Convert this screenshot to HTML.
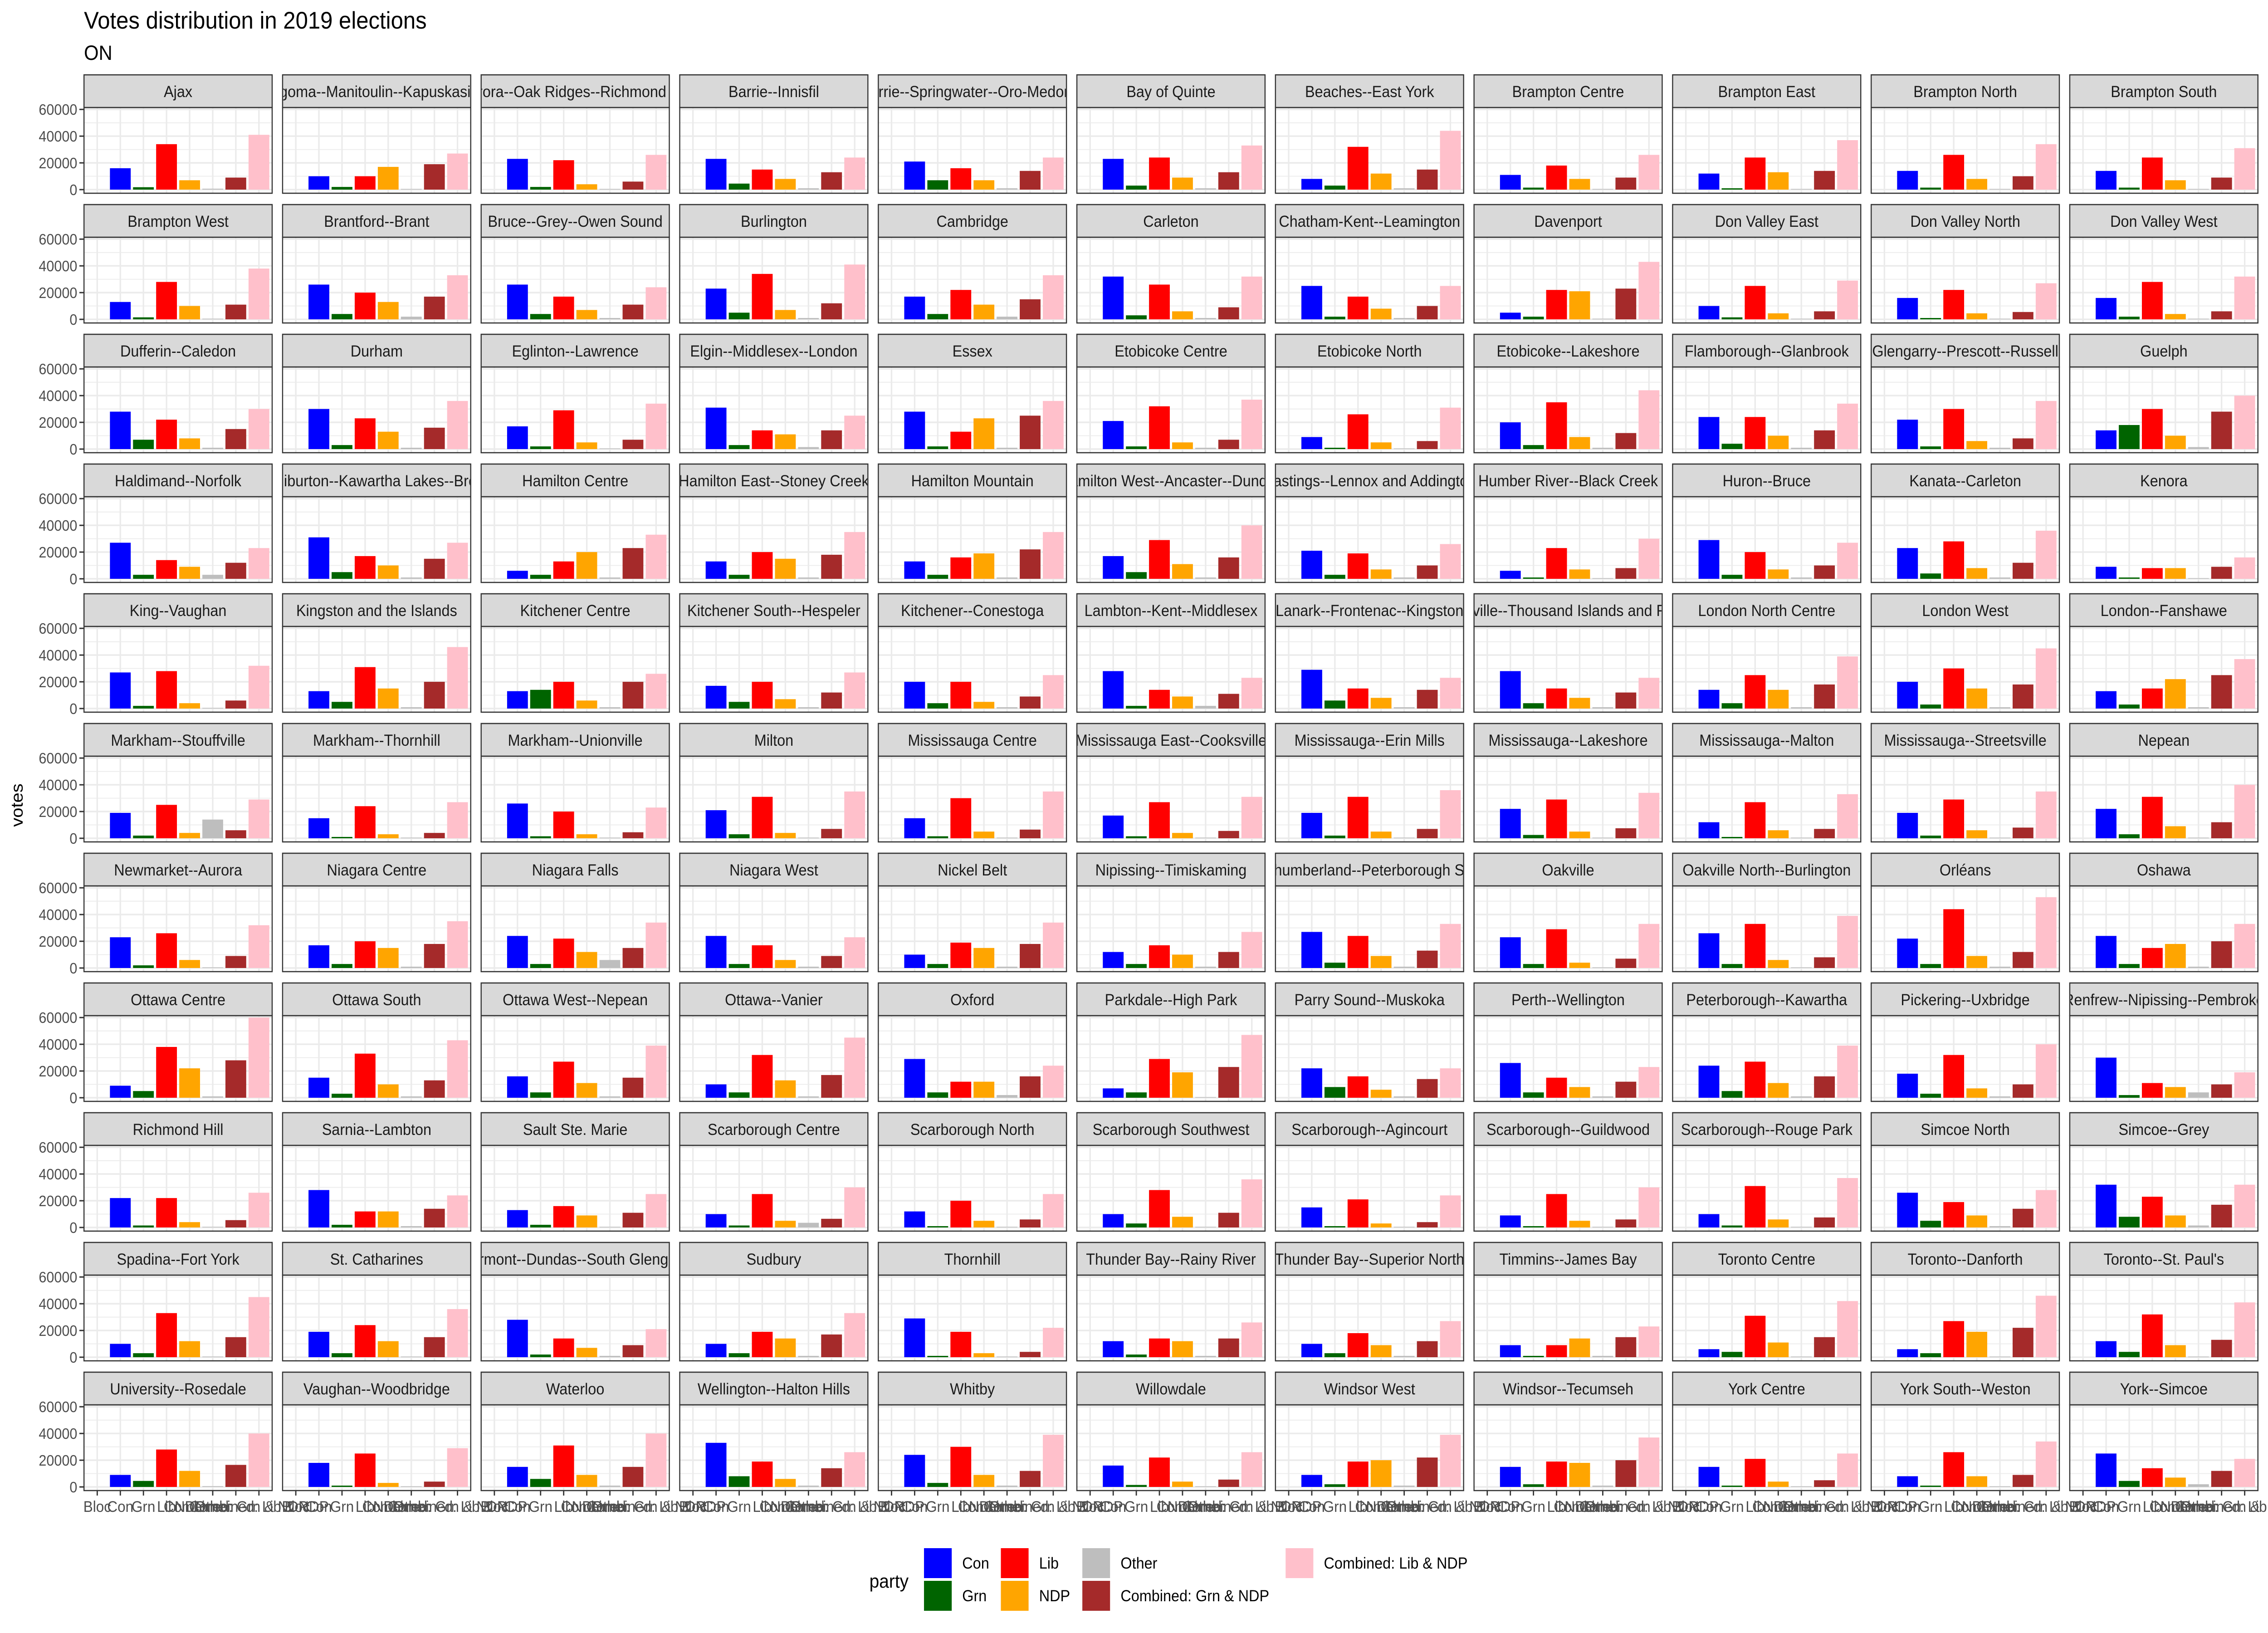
<!DOCTYPE html>
<html>
<head>
<meta charset="utf-8">
<style>
html,body{margin:0;padding:0;background:#fff;width:100%;height:100%;overflow:hidden;}
#chart{display:block;position:absolute;left:0;top:0;width:100vw;height:100vh;}
svg text{font-family:"Liberation Sans",Arial,sans-serif;}
</style>
</head>
<body>
<svg id="chart" xmlns="http://www.w3.org/2000/svg" viewBox="0 0 5400 3600" preserveAspectRatio="none" overflow="hidden">
  <defs><clipPath id="pageclip"><rect x="0" y="0" width="5400" height="3600"/></clipPath></defs>
  <g clip-path="url(#pageclip)">
  <rect x="0" y="0" width="5400" height="3600" fill="#ffffff"/>
  <text x="200" y="63" font-size="53" fill="#000">Votes distribution in 2019 elections</text>
  <text x="200" y="132" font-size="45" fill="#000">ON</text>
  <text transform="translate(54,1775) rotate(-90)" text-anchor="middle" font-size="40" fill="#000">votes</text>
  <g id="panels"></g>
  <g id="legend">
    <text x="2070" y="3500" font-size="42" fill="#000">party</text>
  </g>
  </g>
</svg>
<script>
const ridings = ["Ajax","Algoma--Manitoulin--Kapuskasing","Aurora--Oak Ridges--Richmond Hill","Barrie--Innisfil","Barrie--Springwater--Oro-Medonte","Bay of Quinte","Beaches--East York","Brampton Centre","Brampton East","Brampton North","Brampton South",
"Brampton West","Brantford--Brant","Bruce--Grey--Owen Sound","Burlington","Cambridge","Carleton","Chatham-Kent--Leamington","Davenport","Don Valley East","Don Valley North","Don Valley West",
"Dufferin--Caledon","Durham","Eglinton--Lawrence","Elgin--Middlesex--London","Essex","Etobicoke Centre","Etobicoke North","Etobicoke--Lakeshore","Flamborough--Glanbrook","Glengarry--Prescott--Russell","Guelph",
"Haldimand--Norfolk","Haliburton--Kawartha Lakes--Brock","Hamilton Centre","Hamilton East--Stoney Creek","Hamilton Mountain","Hamilton West--Ancaster--Dundas","Hastings--Lennox and Addington","Humber River--Black Creek","Huron--Bruce","Kanata--Carleton","Kenora",
"King--Vaughan","Kingston and the Islands","Kitchener Centre","Kitchener South--Hespeler","Kitchener--Conestoga","Lambton--Kent--Middlesex","Lanark--Frontenac--Kingston","Leeds--Grenville--Thousand Islands and Rideau Lakes","London North Centre","London West","London--Fanshawe",
"Markham--Stouffville","Markham--Thornhill","Markham--Unionville","Milton","Mississauga Centre","Mississauga East--Cooksville","Mississauga--Erin Mills","Mississauga--Lakeshore","Mississauga--Malton","Mississauga--Streetsville","Nepean",
"Newmarket--Aurora","Niagara Centre","Niagara Falls","Niagara West","Nickel Belt","Nipissing--Timiskaming","Northumberland--Peterborough South","Oakville","Oakville North--Burlington","Orléans","Oshawa",
"Ottawa Centre","Ottawa South","Ottawa West--Nepean","Ottawa--Vanier","Oxford","Parkdale--High Park","Parry Sound--Muskoka","Perth--Wellington","Peterborough--Kawartha","Pickering--Uxbridge","Renfrew--Nipissing--Pembroke",
"Richmond Hill","Sarnia--Lambton","Sault Ste. Marie","Scarborough Centre","Scarborough North","Scarborough Southwest","Scarborough--Agincourt","Scarborough--Guildwood","Scarborough--Rouge Park","Simcoe North","Simcoe--Grey",
"Spadina--Fort York","St. Catharines","Stormont--Dundas--South Glengarry","Sudbury","Thornhill","Thunder Bay--Rainy River","Thunder Bay--Superior North","Timmins--James Bay","Toronto Centre","Toronto--Danforth","Toronto--St. Paul's",
"University--Rosedale","Vaughan--Woodbridge","Waterloo","Wellington--Halton Hills","Whitby","Willowdale","Windsor West","Windsor--Tecumseh","York Centre","York South--Weston","York--Simcoe"];

const categories = ["Bloc","Con","Grn","Lib","NDP","Other","Combined: Grn & NDP","Combined: Lib & NDP"];
const yTicks = [0,20000,40000,60000];
const yMinor = [10000,30000,50000];

// votes in thousands
const conVotes = [16,10,23,23,21,23,8,11,12,14,14, 13,26,26,23,17,32,25,5,10,16,16, 28,30,17,31,28,21,9,20,24,22,14, 27,31,6,13,13,17,21,6,29,23,9, 27,13,13,17,20,28,29,28,14,20,13, 19,15,26,21,15,17,19,22,12,19,22, 23,17,24,24,10,12,27,23,26,22,24, 9,15,16,10,29,7,22,26,24,18,30, 22,28,13,10,12,10,15,9,10,26,32, 10,19,28,10,29,12,10,9,6,6,12, 9,18,15,33,24,16,9,15,15,8,25];
const grnVotes = [1.8,2,2,4.5,7,3,3,1.5,1,1.5,1.5, 1.5,4,4,5,4,3,2,2,1.5,1,2, 7,3,2,3,2,2,1,3,4,2,18, 3,5,3,3,3,5,3,1,3,4,1, 2,5,14,5,4,2,6,4,4,3,3, 2,1,1.5,3,1.5,1.5,2,2.5,1,2,3, 2,3,3,3,3,3,4,3,3,3,3, 5,3,4,4,4,4,8,4,5,3,2, 1.5,2,2,1.5,1,3,1,1,1.5,5,8, 3,3,2,3,1,2,3,1,4,3,4, 4.5,1,6,8,3,1.5,2,2,1,1,4.5];
const libVotes = [34,10,22,15,16,24,32,18,24,26,24, 28,20,17,34,22,26,17,22,25,22,28, 22,23,29,14,13,32,26,35,24,30,30, 14,17,13,20,16,29,19,23,20,28,8, 28,31,20,20,20,14,15,15,25,30,15, 25,24,20,31,30,27,31,29,27,29,31, 26,20,22,17,19,17,24,29,33,44,15, 38,33,27,32,12,29,16,15,27,32,11, 22,12,16,25,20,28,21,25,31,19,23, 33,24,14,19,19,14,18,9,31,27,32, 28,25,31,19,30,22,19,19,21,26,14];
const ndpVotes = [7,17,4,8,7,9,12,8,13,8,7, 10,13,7,7,11,6,8,21,4.5,4.5,4, 8,13,5,11,23,5,5,9,10,6,10, 9,10,20,15,19,11,7,7,7,8,8, 4,15,6,7,5,9,8,8,14,15,22, 4,3,3,4,5,4,5,5,6,6,9, 6,15,12,6,15,10,9,4,6,9,18, 22,10,11,13,12,19,6,8,11,7,8, 4,12,9,5,5,8,3,5,6,9,9, 12,12,7,14,3,12,9,14,11,19,9, 12,3,9,6,9,4,20,18,4,8,7];
const otherVotes = [0.7,0.5,0.5,1,1,1,1,0.5,0.5,0.5,0.5, 0.5,2,1,1,2,1,1,0.5,0.5,0.5,0.5, 1,1,0.5,1.5,1,1,0.5,1,1,1,1.5, 3,1,1,1,1,1,1,0.5,1,1,0.5, 0.5,1,1,1,1,2,1,1,1,1,1, 14,0.5,0.5,0.5,0.5,0.5,0.5,0.5,0.5,0.5,0.5, 0.5,1,6,1,1,1,1,0.5,0.5,1,1, 1,1,1,1,2,0.5,1,1,1,1,4, 0.5,1,0.5,3.5,0.5,0.5,0.5,0.5,0.5,1,1.5, 0.5,0.5,1,1,0.5,1,1,1,0.5,0.5,0.5, 0.6,0.5,1,1,1,0.5,1,1,0.5,0.5,2];
const grnNdpVotes = [9,19,6,13,14,13,15,9,14,10,9, 11,17,11,12,15,9,10,23,6,5.5,6, 15,16,7,14,25,7,6,12,14,8,28, 12,15,23,18,22,16,10,8,10,12,9, 6,20,20,12,9,11,14,12,18,18,25, 6,4,4.5,7,6.5,5.5,7,7.5,7,8,12, 9,18,15,9,18,12,13,7,8,12,20, 28,13,15,17,16,23,14,12,16,10,10, 5.5,14,11,6.5,6,11,4,6,7.5,14,17, 15,15,9,17,4,14,12,15,15,22,13, 16.5,4,15,14,12,5.5,22,20,5,9,12];
const libNdpVotes = [41,27,26,24,24,33,44,26,37,34,31, 38,33,24,41,33,32,25,43,29,27,32, 30,36,34,25,36,37,31,44,34,36,40, 23,27,33,35,35,40,26,30,27,36,16, 32,46,26,27,25,23,23,23,39,45,37, 29,27,23,35,35,31,36,34,33,35,40, 32,35,34,23,34,27,33,33,39,53,33, 60,43,39,45,24,47,22,23,39,40,19, 26,24,25,30,25,36,24,30,37,28,32, 45,36,21,33,22,26,27,23,42,46,41, 40,29,40,26,39,26,39,37,25,34,21];

const colors = ["none","#0000ff","#006400","#ff0000","#ffa500","#bebebe","#a52a2a","#ffc0cb"];
const seriesList = [null,conVotes,grnVotes,libVotes,ndpVotes,otherVotes,grnNdpVotes,libNdpVotes];
const legendLabels = ["Con","Grn","Lib","NDP","Other","Combined: Grn & NDP","Combined: Lib & NDP"];

const NS = "http://www.w3.org/2000/svg";
const NCOL = 11, PW = 448, COLPITCH = 472.8, ROWPITCH = 286, LEFT0 = 200, TOP0 = 165;
const STRIP_H = 72, PLOT_H = 189;
const CAT_PAD = 31.5, CAT_STEP = 55, BAR_W = 49.5;
const Y0_OFF = 253, Y_SCALE = 176.8 / 60000;
const FRAME_W = 5400;

function el(tag, attrs, parent) {
  const e = document.createElementNS(NS, tag);
  for (const k in attrs) e.setAttribute(k, attrs[k]);
  parent.appendChild(e);
  return e;
}
function xPos(left, i) { return left + CAT_PAD + i * CAT_STEP; }
function yPos(top, v) { return top + Y0_OFF - v * Y_SCALE; }

const panels = document.getElementById('panels');
const nRows = Math.ceil(ridings.length / NCOL);
const xLabelEls = [];

ridings.forEach((name, idx) => {
  const c = idx % NCOL, r = Math.floor(idx / NCOL);
  const left = LEFT0 + c * COLPITCH, top = TOP0 + r * ROWPITCH;
  const g = el('g', {}, panels);
  
  

  const bg = el('rect', {x:left, y:top+STRIP_H, width:PW, height:PLOT_H, fill:'#ffffff'}, g);
  
  

  yMinor.forEach(v => {
    const l = el('line', {x1:left, x2:left+PW, y1:yPos(top,v), y2:yPos(top,v), stroke:'#ebebeb', 'stroke-width':1.8}, g);
    
    
  });
  yTicks.forEach(v => {
    const l = el('line', {x1:left, x2:left+PW, y1:yPos(top,v), y2:yPos(top,v), stroke:'#ebebeb', 'stroke-width':3.6}, g);
    
    
  });
  categories.forEach((cat, i) => {
    const l = el('line', {x1:xPos(left,i), x2:xPos(left,i), y1:top+STRIP_H, y2:top+STRIP_H+PLOT_H, stroke:'#ebebeb', 'stroke-width':3.6}, g);
    
    
  });

  for (let i = 1; i < categories.length; i++) {
    const v = seriesList[i][idx] * 1000;
    const y = yPos(top, v);
    const b = el('rect', {x:xPos(left,i)-BAR_W/2, y:y, width:BAR_W, height:Math.max(0, yPos(top,0)-y), fill:colors[i]}, g);
    
    
  }

  const pb = el('rect', {x:left, y:top+STRIP_H, width:PW, height:PLOT_H, fill:'none', stroke:'#333333', 'stroke-width':2.6}, g);
  
  

  const st = el('rect', {x:left, y:top, width:PW, height:STRIP_H, fill:'#d9d9d9', stroke:'#333333', 'stroke-width':2.6}, g);
  
  
  const clip = el('svg', {x:left+1.5, y:top, width:PW-3, height:STRIP_H, overflow:'hidden'}, g);
  
  
  const t = el('text', {x:(PW-3)/2, y:49, 'text-anchor':'middle', 'font-size':35, fill:'#1a1a1a'}, clip);
  t.textContent = name;
  
  

  if (c === 0) {
    yTicks.forEach(v => {
      const tk = el('line', {x1:left-11, x2:left, y1:yPos(top,v), y2:yPos(top,v), stroke:'#333333', 'stroke-width':3}, g);
      
      
      const tl = el('text', {x:left-16, y:yPos(top,v)+12, 'text-anchor':'end', 'font-size':33, fill:'#4d4d4d'}, g);
      tl.textContent = String(v);
      
      
    });
  }
  if (r === nRows - 1) {
    const by = top + STRIP_H + PLOT_H;
    categories.forEach((cat, i) => {
      const tk = el('line', {x1:xPos(left,i), x2:xPos(left,i), y1:by, y2:by+11, stroke:'#333333', 'stroke-width':3}, g);
      
      
      const tl = el('text', {x:xPos(left,i), y:by+47, 'text-anchor':'middle', 'font-size':34, fill:'#4d4d4d'}, g);
      tl.textContent = cat;
      
      
      xLabelEls.push({el: tl, cx: xPos(left,i)});
    });
  }
});

xLabelEls.forEach(o => {
  let w = o.el.getComputedTextLength();
  if (o.cx + w / 2 > FRAME_W) {
    const full = o.el.textContent;
    o.el.setAttribute('text-anchor', 'start');
    o.el.setAttribute('x', o.cx - w / 2);
    let s = full;
    while (s.length > 0 && (o.cx - w / 2) + o.el.getComputedTextLength() > FRAME_W - 2) {
      s = s.slice(0, -1);
      o.el.textContent = s;
    }
  }
});

const legend = document.getElementById('legend');
const keyX = [2200,2200,2383,2383,2577,2577,3061];
const keyY = [3413,3485,3413,3485,3413,3485,3413];
legendLabels.forEach((lab, i) => {
  const k = el('rect', {x:keyX[i], y:keyY[i], width:66, height:66, fill:colors[i+1]}, legend);
  
  
  const t = el('text', {x:keyX[i]+91, y:keyY[i]+45, 'font-size':35, fill:'#000'}, legend);
  t.textContent = lab;
  
  
});
</script>
</body>
</html>
